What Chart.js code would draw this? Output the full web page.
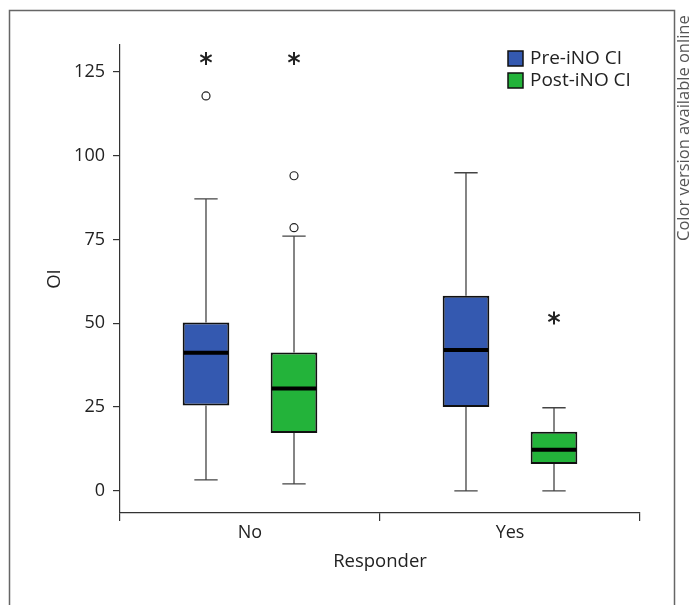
<!DOCTYPE html>
<html>
<head>
<meta charset="utf-8">
<script src="https://cdn.jsdelivr.net/npm/chart.js@4.4.1/dist/chart.umd.min.js"></script>
<style>
  html, body { margin: 0; padding: 0; background: #fff; }
  #wrap { width: 691px; height: 605px; }
</style>
</head>
<body>
<div id="wrap"><canvas id="box-chart" width="691" height="605"></canvas></div>
<script>
  // data
  var categories = ["No", "Yes"];
  var seriesNames = ["Pre-iNO CI", "Post-iNO CI"];
  var yTicks = [0, 25, 50, 75, 100, 125];

  var preMin = [3.3, 0];
  var preQ1 = [25.5, 25];
  var preMed = [41.2, 42];
  var preQ3 = [50.2, 58.2];
  var preMax = [87.1, 94.9];
  var preOutliers = [[117.8], []];
  var preExtremes = [[129], []];

  var postMin = [2.1, 0];
  var postQ1 = [17.3, 8];
  var postMed = [30.5, 12.3];
  var postQ3 = [41.3, 17.6];
  var postMax = [76, 24.8];
  var postOutliers = [[78.5, 94], []];
  var postExtremes = [[129], [51.6]];

  var FONT = "'Open Sans', 'Noto Sans', sans-serif";
  var TXT = "#222";

  var stats = [
    { min: preMin, med: preMed, max: preMax, out: preOutliers, ext: preExtremes },
    { min: postMin, med: postMed, max: postMax, out: postOutliers, ext: postExtremes }
  ];

  //whiskers, medians, outliers and the decoration around the chart
  var boxPlot = {
    id: 'boxPlot',
    beforeDraw: function(chart) {
      var ctx = chart.ctx;
      ctx.save();
      ctx.strokeStyle = '#666';
      ctx.lineWidth = 1.5;
      ctx.strokeRect(9.5, 10.5, 665, 620);
      // side note
      ctx.translate(689, 241);
      ctx.rotate(-Math.PI / 2);
      ctx.fillStyle = '#555';
      ctx.font = "16.5px " + FONT;
      ctx.textAlign = 'left';
      ctx.textBaseline = 'alphabetic';
      ctx.fillText('Color version available online', 0, 0);
      ctx.restore();
    },
    beforeDatasetsDraw: function(chart) {
      var ctx = chart.ctx, y = chart.scales.y;
      ctx.save();
      ctx.strokeStyle = '#444';
      ctx.lineWidth = 1.3;
      stats.forEach(function(s, d) {
        var meta = chart.getDatasetMeta(d);
        meta.data.forEach(function(bar, i) {
          var lo = chart.data.datasets[d].data[i][0];
          var hi = chart.data.datasets[d].data[i][1];
          var cap = bar.width / 4;
          ctx.beginPath();
          ctx.moveTo(bar.x, y.getPixelForValue(hi));
          ctx.lineTo(bar.x, y.getPixelForValue(s.max[i]));
          ctx.moveTo(bar.x - cap, y.getPixelForValue(s.max[i]));
          ctx.lineTo(bar.x + cap, y.getPixelForValue(s.max[i]));
          ctx.moveTo(bar.x, y.getPixelForValue(lo));
          ctx.lineTo(bar.x, y.getPixelForValue(s.min[i]));
          ctx.moveTo(bar.x - cap, y.getPixelForValue(s.min[i]));
          ctx.lineTo(bar.x + cap, y.getPixelForValue(s.min[i]));
          ctx.stroke();
        });
      });
      ctx.restore();
    },
    afterDatasetsDraw: function(chart) {
      var ctx = chart.ctx, y = chart.scales.y;
      ctx.save();
      stats.forEach(function(s, d) {
        var meta = chart.getDatasetMeta(d);
        meta.data.forEach(function(bar, i) {
          var half = bar.width / 2 - 1;
          var my = y.getPixelForValue(s.med[i]);
          ctx.strokeStyle = '#000';
          ctx.lineWidth = 4;
          ctx.beginPath();
          ctx.moveTo(bar.x - half, my);
          ctx.lineTo(bar.x + half, my);
          ctx.stroke();
          // mild outliers
          ctx.lineWidth = 1.2;
          ctx.strokeStyle = '#222';
          s.out[i].forEach(function(v) {
            ctx.beginPath();
            ctx.arc(bar.x, y.getPixelForValue(v), 4, 0, Math.PI * 2);
            ctx.stroke();
          });
          // extremes
          ctx.lineWidth = 2;
          ctx.strokeStyle = '#222';
          s.ext[i].forEach(function(v) {
            var cy = y.getPixelForValue(v), r = 6.5;
            ctx.beginPath();
            for (var k = 0; k < 3; k++) {
              var a = Math.PI / 2 + k * Math.PI / 3;
              ctx.moveTo(bar.x + r * Math.cos(a), cy + r * Math.sin(a));
              ctx.lineTo(bar.x - r * Math.cos(a), cy - r * Math.sin(a));
            }
            ctx.stroke();
          });
        });
      });
      // legend
      var lx = 508, ly = [51, 73];
      chart.data.datasets.forEach(function(ds, d) {
        ctx.fillStyle = ds.backgroundColor;
        ctx.fillRect(lx, ly[d], 15, 15);
        ctx.strokeStyle = '#111';
        ctx.lineWidth = 1.5;
        ctx.strokeRect(lx, ly[d], 15, 15);
        ctx.fillStyle = TXT;
        ctx.font = "19px " + FONT;
        ctx.textAlign = 'left';
        ctx.textBaseline = 'middle';
        ctx.fillText(ds.label, lx + 22, ly[d] + 8);
      });
      ctx.restore();
    }
  };

  var boxChart = new Chart(document.getElementById("box-chart"), {
    type: 'bar',
    data: {
      labels: categories,
      datasets: [
        {
          label: seriesNames[0],
          backgroundColor: "#3459b0",
          borderColor: "#111",
          borderWidth: 2,
          borderSkipped: false,
          data: categories.map(function(c, i) { return [preQ1[i], preQ3[i]]; })
        },
        {
          label: seriesNames[1],
          backgroundColor: "#23b33a",
          borderColor: "#111",
          borderWidth: 2,
          borderSkipped: false,
          data: categories.map(function(c, i) { return [postQ1[i], postQ3[i]]; })
        }
      ]
    },
    plugins: [boxPlot],
    options: {
      responsive: false,
      animation: false,
      layout: { padding: { left: 38, top: 45, right: 51, bottom: 0 } },
      datasets: { bar: { categoryPercentage: 0.677, barPercentage: 0.53 } },
      plugins: {
        legend: { display: false },
        tooltip: { enabled: false }
      },
      scales: {
        x: {
          grid: { offset: true, drawOnChartArea: false, drawTicks: true, tickLength: 8, color: '#333', lineWidth: 1.2 },
          border: { display: true, color: '#333', width: 1.2 },
          ticks: { color: TXT, font: { family: FONT, size: 18 }, padding: 1 },
          title: { display: true, text: 'Responder', color: TXT, font: { family: FONT, size: 18.5 }, padding: { bottom: 32 } },
          afterFit: function(scale) { scale.height = 92; }
        },
        y: {
          min: -6.6,
          max: 133,
          afterBuildTicks: function(scale) {
            scale.ticks = yTicks.map(function(v) { return { value: v }; });
          },
          grid: { drawOnChartArea: false, drawTicks: true, tickLength: 7, color: '#333', lineWidth: 1.2 },
          border: { display: true, color: '#333', width: 1.2 },
          ticks: { color: TXT, font: { family: FONT, size: 18 }, padding: 8 },
          title: { display: true, text: 'OI', color: TXT, font: { family: FONT, size: 18.5 }, padding: { top: 6 } },
          afterFit: function(scale) { scale.width = 82; }
        }
      }
    }
  });
</script>
</body>
</html>
